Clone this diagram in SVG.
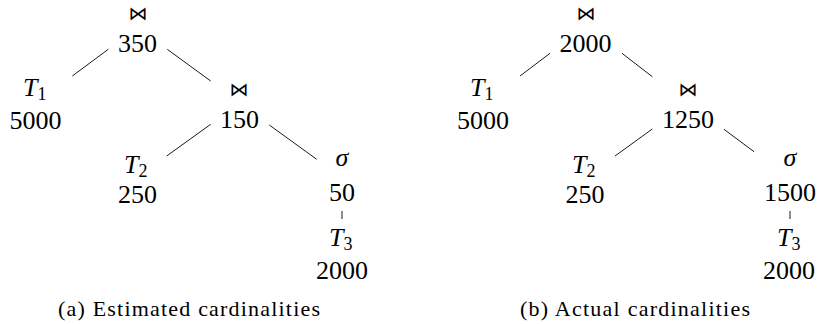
<svg xmlns="http://www.w3.org/2000/svg" width="819" height="324" viewBox="0 0 819 324">
<style>
.n{font-family:"Liberation Serif","Times New Roman",serif;font-size:26px;fill:#000;text-anchor:middle}
.v{font-family:"Liberation Serif","Times New Roman",serif;font-size:26px;font-style:italic;fill:#000}
.sub{font-style:normal;font-size:18px}
.j{font-family:"DejaVu Sans",sans-serif;font-size:19px;fill:#000;text-anchor:middle}
.cap{font-family:"Liberation Serif","Times New Roman",serif;font-size:22px;fill:#000}
.e{stroke:#000;stroke-width:0.9;fill:none}
</style>
<rect width="819" height="324" fill="#fff"/>
<g id="connectors">
<line class="e" x1="108.3" y1="49.3" x2="72.3" y2="76"/>
<line class="e" x1="167.3" y1="49.3" x2="210.7" y2="81"/>
<line class="e" x1="210.7" y1="124.3" x2="166.7" y2="156"/>
<line class="e" x1="269.3" y1="125" x2="316.7" y2="159.3"/>
<line class="e" x1="342" y1="211" x2="342" y2="219"/>
<line class="e" x1="550" y1="53.3" x2="520" y2="76"/>
<line class="e" x1="622" y1="53.3" x2="652.3" y2="76.7"/>
<line class="e" x1="652.3" y1="129" x2="615" y2="156"/>
<line class="e" x1="724" y1="129.3" x2="754" y2="151.7"/>
<line class="e" x1="790" y1="211" x2="790" y2="219"/>
</g>
<g id="a-join1"><text class="j" x="138" y="20">⋈</text><text class="n" x="137.5" y="52">350</text></g>
<g id="a-t1"><text class="v" x="23" y="96">T<tspan class="sub" dy="4">1</tspan></text><text class="n" x="35.5" y="129">5000</text></g>
<g id="a-join2"><text class="j" x="239" y="96">⋈</text><text class="n" x="239.5" y="128">150</text></g>
<g id="a-t2"><text class="v" x="124" y="173">T<tspan class="sub" dy="4">2</tspan></text><text class="n" x="137.5" y="203">250</text></g>
<g id="a-sigma"><text class="v" x="342" y="166" text-anchor="middle">σ</text><text class="n" x="342" y="201">50</text></g>
<g id="a-t3"><text class="v" x="329" y="246">T<tspan class="sub" dy="4">3</tspan></text><text class="n" x="342" y="279">2000</text></g>
<g id="b-join1"><text class="j" x="586" y="20">⋈</text><text class="n" x="585.5" y="52">2000</text></g>
<g id="b-t1"><text class="v" x="470" y="96">T<tspan class="sub" dy="4">1</tspan></text><text class="n" x="483" y="129">5000</text></g>
<g id="b-join2"><text class="j" x="688" y="96">⋈</text><text class="n" x="688" y="128">1250</text></g>
<g id="b-t2"><text class="v" x="572" y="173">T<tspan class="sub" dy="4">2</tspan></text><text class="n" x="585" y="203">250</text></g>
<g id="b-sigma"><text class="v" x="790" y="166" text-anchor="middle">σ</text><text class="n" x="790" y="201">1500</text></g>
<g id="b-t3"><text class="v" x="777" y="246">T<tspan class="sub" dy="4">3</tspan></text><text class="n" x="789" y="279">2000</text></g>
<g id="captions">
<text class="cap" x="58" y="316" textLength="262" lengthAdjust="spacing">(a) Estimated cardinalities</text>
<text class="cap" x="520" y="316" textLength="230" lengthAdjust="spacing">(b) Actual cardinalities</text>
</g>
</svg>
